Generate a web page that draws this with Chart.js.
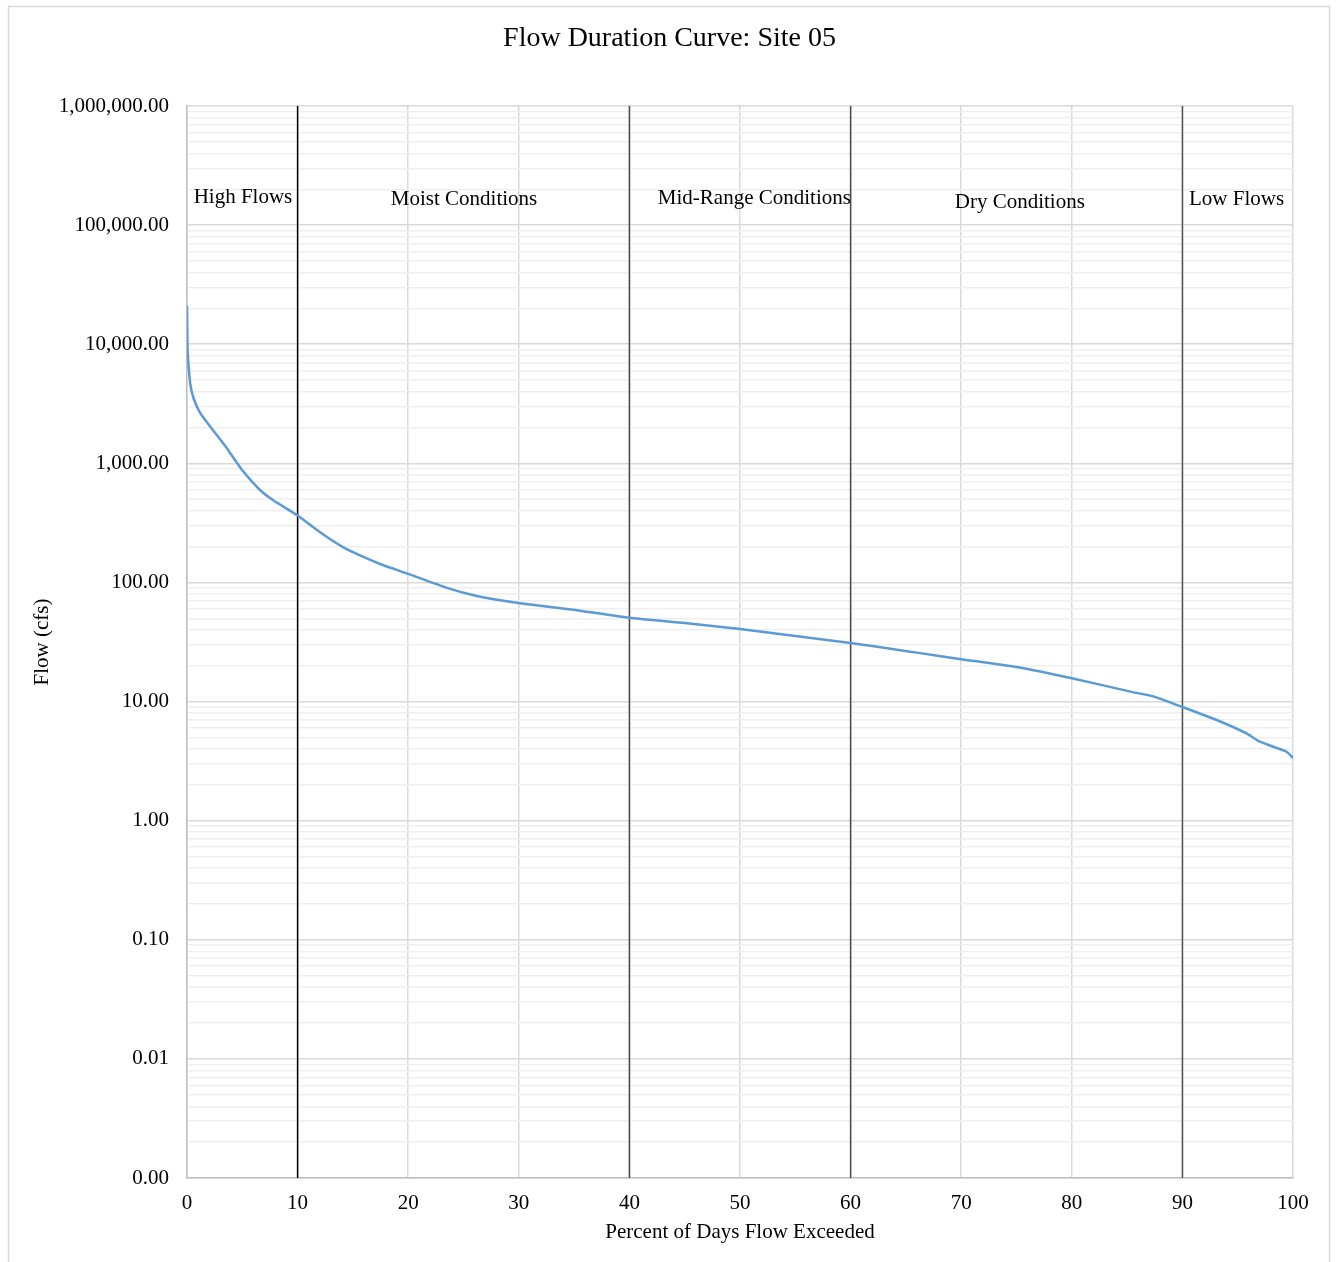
<!DOCTYPE html>
<html>
<head>
<meta charset="utf-8">
<script src="https://cdn.jsdelivr.net/npm/chart.js@4"></script>
<style>
  html, body { margin: 0; padding: 0; background: #fff; }
  #wrap { position: absolute; left: 0; top: 0; width: 1339px; height: 1262px; }
</style>
</head>
<body>
<div id="wrap"><canvas id="fdc"></canvas></div>
<script>
// Percent of days a flow is exceeded, and the flow (cfs) at that exceedance
const exceedPct = [0, 0.05, 0.15, 0.3, 0.6, 1.2, 2.35, 3.25, 3.6, 5, 6.6, 7.8, 10, 12, 14.1, 16, 17.7, 20, 23.5, 26.2, 30.1, 34.9, 40, 45, 50, 55, 60, 64.5, 66.3, 70, 75, 80, 85.5, 87.3, 90, 93.1, 95.8, 97, 99.4, 100];
const flowCfs   = [21000, 9000, 6500, 4600, 3500, 2640, 1900, 1480, 1340, 875, 597, 490, 365, 265, 198, 163, 140, 118, 90, 77, 67, 59, 50.5, 45.6, 40.6, 35.5, 31, 27, 25.5, 22.7, 19.5, 15.7, 12.0, 11.1, 9.0, 7.0, 5.4, 4.6, 3.8, 3.36];

// Flow-regime boundaries (percent exceeded)
const regimeBreaks = [10, 40, 60, 90];
const regimeLineColors = ['#000000', '#4a4a4a', '#4a4a4a', '#555555'];

// Flow-regime names and where each one sits (percent, cfs)
const regimeNames = ['High Flows', 'Moist Conditions', 'Mid-Range Conditions', 'Dry Conditions', 'Low Flows'];
const regimeNameAt = [5.06, 25.05, 51.3, 75.3, 94.9];
const regimeNameFlow = [172000, 165000, 168000, 155000, 165000];

// Axis tick values
const xTicks = [0, 10, 20, 30, 40, 50, 60, 70, 80, 90, 100];
const yDecades = [-3, -2, -1, 0, 1, 2, 3, 4, 5, 6];

const yTicks = [];
yDecades.forEach(e => {
  for (let m = 1; m <= 9; m++) {
    if (e === 6 && m > 1) break;
    yTicks.push(Number((m * Math.pow(10, e)).toPrecision(6)));
  }
});
const isDecade = v => Math.abs(Math.log10(v) - Math.round(Math.log10(v))) < 1e-9;

const serif = "'Liberation Serif', 'Times New Roman', serif";

const datasets = [{
  label: 'Flow',
  data: exceedPct.map((p, i) => ({ x: p, y: flowCfs[i] })),
  showLine: true,
  borderColor: '#5b9bd5',
  borderWidth: 2.5,
  pointRadius: 0,
  tension: 0.15,
  order: 0
}];
regimeBreaks.forEach((b, i) => {
  datasets.push({
    label: 'break' + b,
    data: [{ x: b, y: 0.001 }, { x: b, y: 1000000 }],
    showLine: true,
    borderColor: regimeLineColors[i],
    borderWidth: 1.5,
    pointRadius: 0,
    order: 1
  });
});

const pageFrame = {
  id: 'pageFrame',
  beforeDraw(chart) {
    const c = chart.ctx;
    c.save();
    c.fillStyle = '#ffffff';
    c.fillRect(0, 0, chart.width, chart.height);
    c.strokeStyle = '#d9d9d9';
    c.lineWidth = 1.5;
    c.strokeRect(8.5, 6.5, 1321, 1262);
    c.restore();
  }
};

const regimeLabels = {
  id: 'regimeLabels',
  afterDatasetsDraw(chart) {
    const c = chart.ctx, xs = chart.scales.x, ys = chart.scales.y;
    c.save();
    c.font = '21px ' + serif;
    c.fillStyle = '#000';
    c.textAlign = 'center';
    c.textBaseline = 'middle';
    regimeNames.forEach((n, i) => {
      c.fillText(n, xs.getPixelForValue(regimeNameAt[i]), ys.getPixelForValue(regimeNameFlow[i]));
    });
    c.restore();
  }
};

new Chart(document.getElementById('fdc'), {
  type: 'scatter',
  data: { datasets },
  plugins: [pageFrame, regimeLabels],
  options: {
    responsive: true,
    maintainAspectRatio: false,
    animation: false,
    layout: { padding: 0 },
    plugins: {
      legend: { display: false },
      tooltip: { enabled: false },
      title: {
        display: true,
        text: 'Flow Duration Curve: Site 05',
        color: '#000',
        font: { family: serif, size: 28, weight: 'normal' },
        padding: { top: 22.2, bottom: 50.2 }
      }
    },
    scales: {
      x: {
        type: 'linear',
        min: 0,
        max: 100,
        afterBuildTicks: s => { s.ticks = xTicks.map(v => ({ value: v })); },
        afterFit: s => { s.height = 84; },
        ticks: { color: '#000', font: { family: serif, size: 21 }, padding: 13 },
        grid: { color: '#d9d9d9', lineWidth: 1.5, drawTicks: false },
        border: { color: '#bfbfbf', width: 1.5 },
        title: {
          display: true,
          text: 'Percent of Days Flow Exceeded',
          color: '#000',
          font: { family: serif, size: 21 },
          padding: { top: 0, bottom: 17 }
        }
      },
      y: {
        type: 'logarithmic',
        min: 0.001,
        max: 1000000,
        afterBuildTicks: s => { s.ticks = yTicks.map(v => ({ value: v })); },
        afterFit: s => { s.width = 187; },
        ticks: {
          autoSkip: false,
          color: '#000',
          font: { family: serif, size: 21 },
          padding: 18,
          callback: v => isDecade(v)
            ? Number(v).toLocaleString('en-US', { minimumFractionDigits: 2, maximumFractionDigits: 2 })
            : ''
        },
        grid: {
          drawTicks: false,
          color: ctx => (ctx.tick && isDecade(ctx.tick.value)) ? '#d9d9d9' : '#efefef',
          lineWidth: 1.5
        },
        border: { color: '#bfbfbf', width: 1.5 },
        title: {
          display: true,
          text: 'Flow (cfs)',
          color: '#000',
          font: { family: serif, size: 21 },
          padding: { top: 29.4, bottom: 0 }
        }
      },
      // empty right-hand gutter so the plot ends where the page margin begins
      gutter: {
        type: 'linear',
        position: 'right',
        display: true,
        afterFit: s => { s.width = 46; },
        ticks: { display: false },
        grid: { display: false, drawTicks: false },
        border: { display: false }
      }
    }
  }
});
</script>
</body>
</html>
